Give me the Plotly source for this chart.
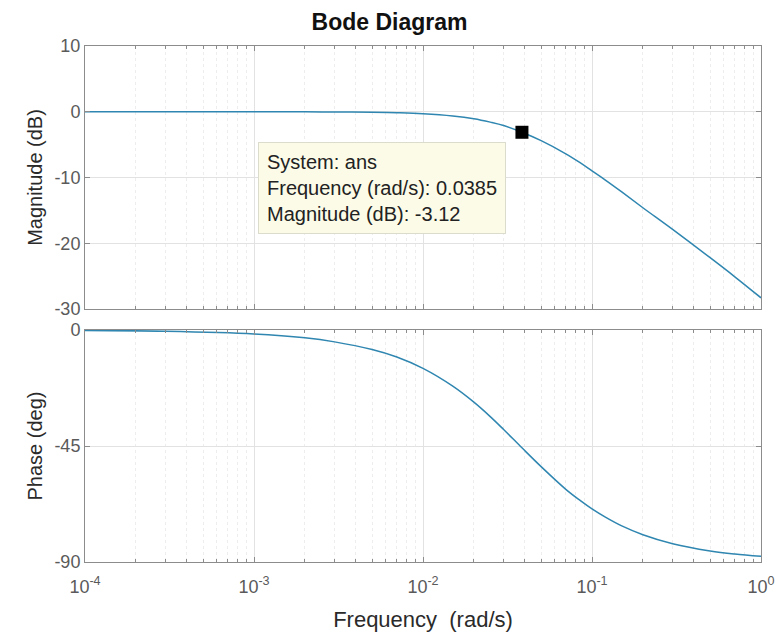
import plotly.graph_objects as go
from plotly.subplots import make_subplots

# Frequencies (rad/s) and values
freq = [1e-4, 3e-4, 1e-3, 2e-3, 3e-3, 5e-3, 7e-3, 1e-2, 1.5e-2, 2e-2, 2.5e-2, 3e-2,
        0.0385, 0.05, 0.07, 0.085, 0.1, 0.12, 0.15, 0.2, 0.3, 0.5, 0.7, 1.0]
mag_db = [0.0, 0.0, -0.003, -0.012, -0.03, -0.08, -0.15, -0.29, -0.63, -1.06, -1.58, -2.1,
          -3.12, -4.4, -6.4, -7.75, -9.0, -10.4, -12.2, -14.6, -17.9, -22.2, -25.1, -28.3]
phase_deg = [-0.15, -0.46, -1.5, -3.0, -4.6, -7.6, -10.5, -14.9, -21.8, -28.0, -33.6, -38.6,
             -45.7, -53.0, -61.8, -66.1, -69.4, -72.6, -76.0, -79.4, -82.9, -85.7, -86.9, -87.8]

tip_freq = 0.0385
tip_mag = -3.12

x_tickvals = [1e-4, 1e-3, 1e-2, 1e-1, 1e0]
x_ticktext = ["10<sup>-4</sup>", "10<sup>-3</sup>", "10<sup>-2</sup>", "10<sup>-1</sup>", "10<sup>0</sup>"]
mag_ticks = [10, 0, -10, -20, -30]
mag_ticktext = ["10", "0", "-10", "-20", "-30"]
phase_ticks = [0, -45, -90]
phase_ticktext = ["0", "-45", "-90"]

line_color = "#2f86b0"
grid_color = "#e2e2e2"
axis_color = "#8c8c8c"
tick_color = "#5a5a5a"
label_color = "#2a2a2a"
font_family = "Liberation Sans, Arial, sans-serif"

fig = make_subplots(rows=2, cols=1, shared_xaxes=True, vertical_spacing=0.04)

fig.add_trace(go.Scatter(x=freq, y=mag_db, mode="lines", line=dict(color=line_color, width=1.5, shape="spline"),
                         showlegend=False), row=1, col=1)
fig.add_trace(go.Scatter(x=[tip_freq], y=[tip_mag], mode="markers",
                         marker=dict(symbol="square", size=13, color="black"), showlegend=False), row=1, col=1)
fig.add_trace(go.Scatter(x=freq, y=phase_deg, mode="lines", line=dict(color=line_color, width=1.5, shape="spline"),
                         showlegend=False), row=2, col=1)

xaxis_common = dict(type="log", range=[-4, 0], showgrid=True, gridcolor=grid_color, gridwidth=1,
                    tickmode="array", tickvals=x_tickvals, ticks="inside", ticklen=5, tickcolor=axis_color,
                    showline=True, linecolor=axis_color, linewidth=1, mirror="ticks", automargin=False,
                    minor=dict(dtick="D1", showgrid=True, gridcolor="#ededed", griddash="dot",
                               ticks="inside", ticklen=3, tickcolor=axis_color),
                    tickfont=dict(size=18, color=tick_color, family=font_family), zeroline=False)

fig.update_xaxes(**xaxis_common, showticklabels=False, row=1, col=1)
fig.update_xaxes(**xaxis_common, ticktext=x_ticktext, showticklabels=True, ticklabelstandoff=8,
                 title=dict(text="Frequency\u00a0 (rad/s)", font=dict(size=22, color=label_color, family=font_family),
                            standoff=16), row=2, col=1)

yaxis_common = dict(showgrid=True, gridcolor=grid_color, tickmode="array",
                    ticks="inside", ticklen=5, tickcolor=axis_color, automargin=False,
                    showline=True, linecolor=axis_color, linewidth=1, mirror="ticks", zeroline=False,
                    tickfont=dict(size=18, color=tick_color, family=font_family))

fig.update_yaxes(**yaxis_common, range=[-30, 10], tickvals=mag_ticks, ticktext=mag_ticktext,
                 title=dict(text="Magnitude (dB)", font=dict(size=20, color=label_color, family=font_family),
                            standoff=6),
                 domain=[0.4903, 1.0], row=1, col=1)
fig.update_yaxes(**yaxis_common, range=[-90, 0], tickvals=phase_ticks, ticktext=phase_ticktext,
                 title=dict(text="Phase (deg)", font=dict(size=20, color=label_color, family=font_family),
                            standoff=6),
                 domain=[0.0, 0.4496], row=2, col=1)

fig.add_annotation(xref="paper", yref="paper", x=0.256, y=0.814, xanchor="left", yanchor="top",
                   align="left", showarrow=False,
                   text="System: ans<br>Frequency (rad/s): %s<br>Magnitude (dB): %s" % (tip_freq, tip_mag),
                   font=dict(size=20, color="#222222", family=font_family),
                   bgcolor="#fbfbe8", bordercolor="#dcdccc", borderwidth=1, borderpad=8)

fig.update_layout(
    width=779, height=639,
    margin=dict(l=85, r=18, t=46, b=77),
    paper_bgcolor="white", plot_bgcolor="white",
    title=dict(text="<b>Bode Diagram</b>", x=0.5, xanchor="center", y=0.965, yanchor="middle",
               font=dict(size=23, color="#111111", family=font_family)),
    font=dict(family=font_family),
)

fig.write_html("out.html")
